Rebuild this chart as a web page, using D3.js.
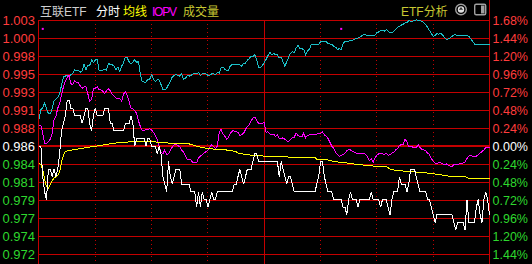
<!DOCTYPE html>
<html>
<head>
<meta charset="utf-8">
<script src="https://cdn.jsdelivr.net/npm/d3@7"></script>
<style>
  html, body { margin: 0; padding: 0; background: #000; }
  svg { display: block; }
  text { font-family: "Liberation Sans", "Noto Sans CJK SC", sans-serif; }
</style>
</head>
<body>
<svg id="mainSvg" width="532" height="264"></svg>
<script>
var prevClose = 0.986;      // 昨收
var pctTicks = [1.68, 1.44, 1.20, 0.96, 0.72, 0.48, 0.24, 0, -0.24, -0.48, -0.72, -0.96, -1.20, -1.44];
var priceLabels = ["1.003", "1.000", "0.998", "0.995", "0.993", "0.991", "0.988", "0.986", "0.984", "0.981", "0.979", "0.977", "0.974", "0.972"];
var pctLabels = ["1.68%", "1.44%", "1.20%", "0.96%", "0.72%", "0.48%", "0.24%", "0.00%", "0.24%", "0.48%", "0.72%", "0.96%", "1.20%", "1.44%"];
var gridMinutes = [30, 60, 90, 120, 150, 180, 210];
var headerItems = ["互联ETF", "分时", "均线", "IOPV", "成交量"];

// 分时 price, one value per minute (0..240)
var priceLine = [
  0.986,0.986,0.982,0.980,0.979,0.983,0.983,0.982,0.983,0.982,
  0.983,0.985,0.988,0.989,0.990,0.992,0.992,0.991,0.991,0.990,
  0.990,0.990,0.990,0.989,0.990,0.991,0.991,0.989,0.988,0.990,
  0.991,0.990,0.990,0.990,0.990,0.991,0.991,0.991,0.989,0.989,
  0.988,0.988,0.988,0.988,0.988,0.988,0.989,0.989,0.989,0.990,
  0.989,0.986,0.987,0.987,0.987,0.987,0.987,0.986,0.987,0.987,
  0.986,0.986,0.986,0.985,0.986,0.985,0.982,0.981,0.980,0.984,
  0.982,0.981,0.982,0.983,0.983,0.983,0.981,0.981,0.981,0.981,
  0.981,0.980,0.980,0.980,0.978,0.980,0.978,0.980,0.979,0.979,
  0.978,0.979,0.980,0.979,0.979,0.980,0.980,0.980,0.980,0.980,
  0.980,0.980,0.980,0.980,0.981,0.981,0.982,0.983,0.982,0.981,
  0.982,0.983,0.983,0.983,0.984,0.985,0.985,0.984,0.984,0.984,
  0.984,0.984,0.984,0.984,0.984,0.984,0.984,0.984,0.982,0.984,
  0.983,0.982,0.981,0.982,0.982,0.981,0.980,0.980,0.980,0.980,
  0.980,0.980,0.980,0.980,0.980,0.980,0.980,0.980,0.981,0.982,
  0.984,0.984,0.982,0.981,0.980,0.980,0.980,0.979,0.979,0.979,
  0.979,0.979,0.978,0.978,0.977,0.979,0.980,0.979,0.979,0.979,
  0.978,0.979,0.979,0.979,0.979,0.979,0.979,0.980,0.979,0.979,
  0.979,0.979,0.978,0.979,0.979,0.979,0.978,0.977,0.979,0.980,
  0.980,0.980,0.982,0.981,0.981,0.981,0.980,0.981,0.983,0.983,
  0.983,0.982,0.981,0.980,0.980,0.980,0.980,0.979,0.979,0.978,
  0.977,0.976,0.977,0.977,0.977,0.977,0.977,0.977,0.977,0.977,
  0.977,0.976,0.975,0.976,0.976,0.976,0.976,0.975,0.979,0.976,
  0.976,0.976,0.976,0.978,0.979,0.977,0.976,0.979,0.980,0.979,
  0.977
];

// IOPV, one value per minute
var iopvLine = [
  0.9888,0.9887,0.9877,0.9864,0.9863,0.9866,0.9869,0.9876,0.9895,0.9899,
  0.9910,0.9916,0.9927,0.9938,0.9945,0.9950,0.9953,0.9942,0.9941,0.9946,
  0.9944,0.9943,0.9939,0.9936,0.9938,0.9938,0.9929,0.9919,0.9921,0.9935,
  0.9936,0.9938,0.9934,0.9934,0.9932,0.9929,0.9933,0.9935,0.9933,0.9928,
  0.9926,0.9923,0.9922,0.9923,0.9919,0.9928,0.9932,0.9927,0.9919,0.9910,
  0.9909,0.9907,0.9903,0.9893,0.9886,0.9881,0.9881,0.9882,0.9882,0.9883,
  0.9881,0.9878,0.9874,0.9869,0.9860,0.9852,0.9850,0.9855,0.9849,0.9850,
  0.9855,0.9859,0.9862,0.9862,0.9861,0.9859,0.9855,0.9852,0.9847,0.9843,
  0.9842,0.9842,0.9838,0.9839,0.9838,0.9845,0.9847,0.9849,0.9851,0.9853,
  0.9855,0.9859,0.9862,0.9860,0.9857,0.9860,0.9878,0.9882,0.9876,0.9873,
  0.9869,0.9872,0.9877,0.9880,0.9880,0.9879,0.9878,0.9874,0.9875,0.9877,
  0.9882,0.9886,0.9888,0.9893,0.9897,0.9898,0.9894,0.9890,0.9890,0.9890,
  0.9891,0.9878,0.9879,0.9876,0.9875,0.9876,0.9873,0.9875,0.9870,0.9870,
  0.9871,0.9869,0.9867,0.9866,0.9869,0.9871,0.9872,0.9877,0.9874,0.9873,
  0.9872,0.9877,0.9871,0.9874,0.9875,0.9875,0.9876,0.9876,0.9876,0.9877,
  0.9877,0.9879,0.9875,0.9873,0.9870,0.9865,0.9860,0.9857,0.9852,0.9849,
  0.9847,0.9848,0.9849,0.9851,0.9854,0.9856,0.9855,0.9853,0.9852,0.9851,
  0.9851,0.9851,0.9851,0.9851,0.9849,0.9846,0.9841,0.9844,0.9839,0.9845,
  0.9848,0.9850,0.9851,0.9850,0.9849,0.9851,0.9848,0.9849,0.9851,0.9852,
  0.9855,0.9857,0.9861,0.9862,0.9862,0.9869,0.9866,0.9859,0.9859,0.9859,
  0.9858,0.9858,0.9862,0.9858,0.9856,0.9855,0.9854,0.9851,0.9849,0.9844,
  0.9840,0.9838,0.9837,0.9839,0.9838,0.9837,0.9836,0.9837,0.9835,0.9834,
  0.9833,0.9836,0.9836,0.9836,0.9837,0.9837,0.9838,0.9839,0.9844,0.9847,
  0.9848,0.9847,0.9847,0.9847,0.9849,0.9851,0.9853,0.9855,0.9858,0.9858,
  0.9858
];

// cyan line (ETF分析), one value per minute
var cyanLine = [
  0.9895,0.9908,0.9910,0.9917,0.9909,0.9903,0.9903,0.9909,0.9919,0.9922,
  0.9924,0.9929,0.9940,0.9951,0.9952,0.9953,0.9952,0.9954,0.9955,0.9960,
  0.9959,0.9959,0.9957,0.9959,0.9968,0.9960,0.9966,0.9966,0.9973,0.9970,
  0.9973,0.9974,0.9960,0.9960,0.9960,0.9961,0.9960,0.9969,0.9967,0.9967,
  0.9965,0.9960,0.9964,0.9958,0.9965,0.9969,0.9977,0.9976,0.9971,0.9968,
  0.9970,0.9974,0.9970,0.9971,0.9954,0.9945,0.9944,0.9944,0.9948,0.9948,
  0.9954,0.9948,0.9945,0.9947,0.9947,0.9941,0.9934,0.9934,0.9936,0.9941,
  0.9945,0.9951,0.9953,0.9954,0.9953,0.9952,0.9955,0.9948,0.9949,0.9953,
  0.9952,0.9953,0.9955,0.9956,0.9955,0.9957,0.9953,0.9955,0.9955,0.9955,
  0.9953,0.9953,0.9955,0.9955,0.9954,0.9957,0.9956,0.9963,0.9964,0.9961,
  0.9959,0.9960,0.9966,0.9967,0.9967,0.9968,0.9967,0.9967,0.9965,0.9969,
  0.9969,0.9973,0.9975,0.9978,0.9978,0.9980,0.9973,0.9963,0.9963,0.9966,
  0.9970,0.9974,0.9979,0.9983,0.9980,0.9982,0.9980,0.9980,0.9976,0.9977,
  0.9971,0.9965,0.9971,0.9977,0.9982,0.9984,0.9983,0.9989,0.9992,0.9988,
  0.9988,0.9987,0.9980,0.9985,0.9987,0.9993,0.9993,0.9993,0.9993,0.9994,
  0.9997,0.9998,0.9997,0.9997,0.9995,0.9994,0.9994,0.9991,0.9990,0.9987,
  0.9988,0.9987,0.9994,0.9998,0.9998,0.9998,0.9999,0.9999,1.0000,1.0002,
  1.0002,1.0003,1.0005,1.0007,1.0006,1.0005,1.0005,1.0005,1.0005,1.0006,
  1.0009,1.0010,1.0012,1.0012,1.0011,1.0013,1.0011,1.0009,1.0009,1.0011,
  1.0013,1.0016,1.0017,1.0019,1.0020,1.0022,1.0022,1.0025,1.0024,1.0024,
  1.0025,1.0026,1.0025,1.0025,1.0024,1.0022,1.0020,1.0016,1.0012,1.0008,
  1.0004,1.0005,1.0008,1.0007,1.0008,1.0006,1.0003,1.0000,1.0001,1.0002,
  1.0004,1.0006,1.0006,1.0005,1.0005,1.0005,1.0005,1.0006,1.0005,1.0004,
  1.0001,0.9998,0.9994,0.9993,0.9993,0.9993,0.9993,0.9993,0.9993,0.9993,
  0.9993
];

// 均线 (average price), sampled minutes
var avgMinutes = [0, 1, 2, 3, 4, 5, 6, 7, 8, 9, 10, 11, 12, 13, 14, 15, 20, 25, 30, 35, 40, 50, 60, 70, 80,
  84, 87, 94, 100, 105, 106, 110, 114, 120, 132, 137, 147, 148, 153, 155, 160, 164, 170, 178, 185,
  188, 196, 201, 206, 213, 220, 227, 230, 240];
var avgValues = [0.9838, 0.9836, 0.9829, 0.9816, 0.9807, 0.9805, 0.9810, 0.9815, 0.9818, 0.9820, 0.9822,
  0.9827, 0.9839, 0.9848, 0.9853, 0.9854, 0.9856, 0.9858, 0.9860, 0.9862, 0.9864, 0.9866, 0.9866, 0.9864,
  0.9863, 0.9860, 0.9858, 0.9856, 0.9855, 0.9853, 0.9851, 0.9849, 0.9848, 0.9847, 0.9846, 0.9845, 0.9845,
  0.9843, 0.9843, 0.9841, 0.9839, 0.9838, 0.9836, 0.9834, 0.9833, 0.9829, 0.9827, 0.9826, 0.9825, 0.9823,
  0.9820, 0.9820, 0.9817, 0.9817];

var markerMinutes = [2, 161];
var markerValues = [1.0014, 1.0014];

var gridColor = "#c40000";
var upColor = "#ff3c3c";
var downColor = "#2ed82e";

window.addEventListener("load", drawChart);

function toPct(p) { return (p / prevClose - 1) * 100; }

function drawChart()
{
    const svg = d3.select("#mainSvg");
    svg.append("rect").attr("width", 532).attr("height", 264).attr("fill", "#000");

    const x = d3.scaleLinear().domain([0, 240]).range([39, 489.5]);
    const y = d3.scaleLinear().domain([1.68, -1.44]).range([20, 254.4]);

    // horizontal grid
    const grid = svg.append("g").attr("shape-rendering", "crispEdges");
    grid.selectAll("line.h").data(pctTicks).join("line")
        .attr("class", "h")
        .attr("x1", x(0)).attr("x2", x(240))
        .attr("y1", d => y(d)).attr("y2", d => y(d))
        .attr("stroke", gridColor)
        .attr("stroke-width", d => d === 0 ? 2 : 1);

    // vertical time grid, 11:30/13:00 solid
    grid.selectAll("line.v").data(gridMinutes).join("line")
        .attr("class", "v")
        .attr("x1", d => x(d)).attr("x2", d => x(d))
        .attr("y1", 20).attr("y2", 264)
        .attr("stroke", gridColor)
        .attr("stroke-dasharray", d => d === 120 ? null : "1,3");

    // borders
    grid.append("line").attr("x1", 38.5).attr("x2", 38.5).attr("y1", 20).attr("y2", 264).attr("stroke", gridColor);
    grid.append("line").attr("x1", 489.5).attr("x2", 489.5).attr("y1", 0).attr("y2", 264).attr("stroke", gridColor);

    // axis labels
    const labelColor = d => d > 0 ? upColor : (d < 0 ? downColor : "#ffffff");
    svg.append("g").selectAll("text").data(pctTicks).join("text")
        .attr("x", 35).attr("y", d => y(d) + 5)
        .attr("text-anchor", "end")
        .attr("font-size", "13px")
        .attr("fill", labelColor)
        .text((d, i) => priceLabels[i]);
    svg.append("g").selectAll("text").data(pctTicks).join("text")
        .attr("x", 492.5).attr("y", d => y(d) + 5)
        .attr("font-size", "12.5px")
        .attr("fill", labelColor)
        .text((d, i) => pctLabels[i]);

    // series
    const minuteLine = d3.line().x((d, i) => x(i)).y(d => y(toPct(d)));
    const lines = svg.append("g").attr("fill", "none").attr("stroke-width", 1)
        .attr("shape-rendering", "crispEdges");
    lines.append("path").datum(cyanLine).attr("d", minuteLine).attr("stroke", "#1cc0c8");
    lines.append("path").datum(iopvLine).attr("d", minuteLine).attr("stroke", "#ff00ff");
    lines.append("path").datum(d3.range(avgMinutes.length))
        .attr("d", d3.line().x(i => x(avgMinutes[i])).y(i => y(toPct(avgValues[i]))))
        .attr("stroke", "#ffff00");
    lines.append("path").datum(priceLine).attr("d", minuteLine).attr("stroke", "#ffffff");

    svg.append("g").selectAll("rect").data(markerMinutes).join("rect")
        .attr("x", d => x(d) - 1).attr("y", (d, i) => y(toPct(markerValues[i])) - 1)
        .attr("width", 2).attr("height", 2)
        .attr("fill", "#ff00ff");

    // header
    const headerX = [40, 96, 123, 152, 183];
    const headerColor = ["#cfcfcf", "#ffffff", "#ffff00", "#ff00ff", "#c8c832"];
    svg.append("g").selectAll("text").data(headerItems).join("text")
        .attr("x", (d, i) => headerX[i]).attr("y", 16)
        .attr("font-size", "12px")
        .attr("fill", (d, i) => headerColor[i])
        .attr("textLength", d => d === "IOPV" ? 25 : null)
        .text(d => d);
    svg.append("text").attr("x", 401).attr("y", 16)
        .attr("font-size", "12px").attr("fill", "#c8c832")
        .text("ETF分析");

    // toolbar icons
    const icons = svg.append("g");
    icons.append("circle").attr("cx", 461).attr("cy", 9.5).attr("r", 5.3)
        .attr("fill", "none").attr("stroke", "#a0a0a0").attr("stroke-width", 1.4);
    icons.append("circle").attr("cx", 461).attr("cy", 9.5).attr("r", 3.2).attr("fill", "#e0e0e0");
    icons.append("path").attr("d", "M461,7 L463.2,9.8 L458.8,9.8 Z").attr("fill", "#333");
    icons.append("rect").attr("x", 474.7).attr("y", 4.2).attr("width", 11).attr("height", 10.6).attr("rx", 1.5)
        .attr("fill", "none").attr("stroke", "#a0a0a0").attr("stroke-width", 1.4);
    icons.append("rect").attr("x", 481).attr("y", 5.5).attr("width", 3.5).attr("height", 8).attr("fill", "#a0a0a0");
}
</script>
</body>
</html>
